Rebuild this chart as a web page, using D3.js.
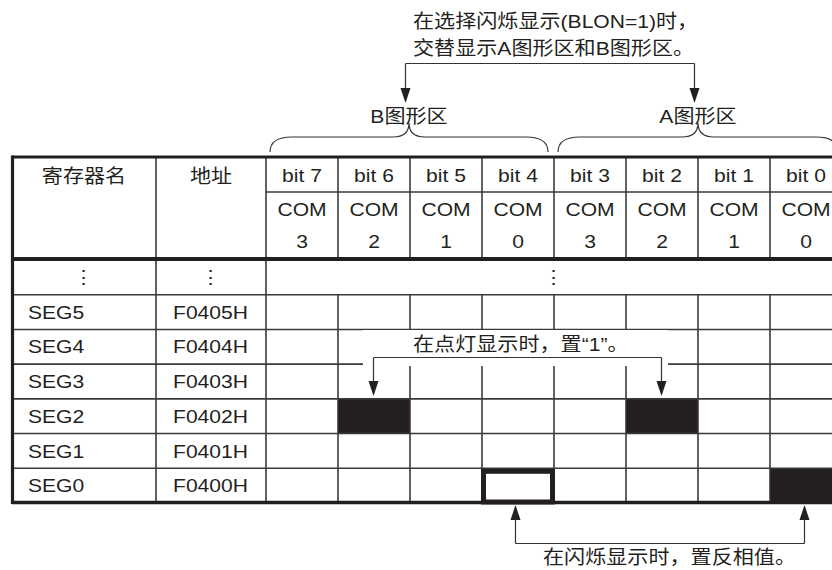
<!DOCTYPE html>
<html><head><meta charset="utf-8">
<script src="https://cdn.jsdelivr.net/npm/d3@7"></script>
<style>
body{margin:0;background:#fff;}
svg text{font-family:"Liberation Sans","Noto Sans CJK SC",sans-serif;fill:#231f20;}
</style></head><body>
<svg id="c" width="832" height="570"></svg>
<script>
// ---- data ----
const headerCols = ["寄存器名","地址"];
const bits = ["bit 7","bit 6","bit 5","bit 4","bit 3","bit 2","bit 1","bit 0"];
const comNums = ["3","2","1","0","3","2","1","0"];
const rows = ["⋮","SEG5","SEG4","SEG3","SEG2","SEG1","SEG0"];
const addrs = ["⋮","F0405H","F0404H","F0403H","F0402H","F0401H","F0400H"];
const litCells = [["SEG2","bit 6"],["SEG2","bit 2"],["SEG0","bit 0"]];
const blinkCells = [["SEG0","bit 4"]];
const areaLabels = ["B图形区","A图形区"];
const topNote = ["在选择闪烁显示(BLON=1)时，","交替显示A图形区和B图形区。"];
const litNote = "在点灯显示时，置“1”。";
const blinkNote = "在闪烁显示时，置反相值。";

const svg = d3.select("#c");
const ink = "#231f20";
const fs = 19, sx = 1.11;

// scales
const xCol = d3.scaleOrdinal().domain(["name","addr"]).range([[12,156],[156,266]]);
const xBit = d3.scaleBand().domain(bits).range([266,842]);
const yRow = d3.scaleBand().domain(rows).range([260,503]);
const bw = xBit.bandwidth(), rh = yRow.bandwidth();

const g = svg.append("g");

// filled cells
g.selectAll("rect.lit").data(litCells).join("rect")
  .attr("x", d=>xBit(d[1])).attr("y", d=>yRow(d[0]))
  .attr("width", bw).attr("height", rh).attr("fill", ink);

// grid lines
const thin = 1.6, lineCol = "#3a3a3a";
function line(x1,y1,x2,y2,w,c){ g.append("line").attr("x1",x1).attr("y1",y1).attr("x2",x2).attr("y2",y2)
  .attr("stroke",c||lineCol).attr("stroke-width",w||thin); }

line(266,192,842,192);
line(156,157,156,503); line(266,157,266,503);
bits.forEach((b,i)=>{ if(i>0){ const x=xBit(b); line(x,157,x,258); line(x,yRow(rows[1]),x,503);} });
rows.forEach((r,i)=>{ if(i>0){ const y=yRow(r); line(12,y,842,y);} });

// blank area behind lit note (breaks lines)
g.append("rect").attr("x",363).attr("y",330).attr("width",305).attr("height",36).attr("fill","#fff");

// outer thick lines
line(12,157,842,157,3.2,ink);
line(12,259,842,259,4,ink);
line(12,502.5,842,502.5,3.5,ink);
line(12.5,155.5,12.5,504,3.2,ink);

// blink cell outline
g.selectAll("rect.blink").data(blinkCells).join("rect")
  .attr("x", d=>xBit(d[1])+1.5).attr("y", d=>yRow(d[0])+3)
  .attr("width", bw-3).attr("height", rh-4)
  .attr("fill","none").attr("stroke",ink).attr("stroke-width",5);

// text helper: places text at (x,y) with horizontal stretch
const tg = svg.append("g").attr("font-size",fs);
function txt(sel, fx, fy, anchor){
  return sel.attr("transform",(d,i)=>`translate(${fx(d,i)},${fy(d,i)}) scale(${sx},1)`)
    .attr("text-anchor", typeof anchor==="function"?anchor:(anchor||"middle"))
    .attr("dominant-baseline","central");
}

txt(tg.selectAll("text.hc").data(headerCols).join("text").text(d=>d),
  (d,i)=>{const r=xCol(i?"addr":"name");return (r[0]+r[1])/2;}, ()=>176);
txt(tg.selectAll("text.bit").data(bits).join("text").text(d=>d), d=>xBit(d)+bw/2, ()=>175);
txt(tg.selectAll("text.com").data(bits).join("text").text("COM"), d=>xBit(d)+bw/2, ()=>209);
txt(tg.selectAll("text.cn").data(comNums).join("text").text(d=>d), (d,i)=>xBit(bits[i])+bw/2, ()=>241);

txt(tg.selectAll("text.rn").data(rows).join("text").text(d=>d),
  (d,i)=> i===0 ? 84 : 28, d=>yRow(d)+rh/2, (d,i)=> i===0?"middle":"start");
txt(tg.selectAll("text.ad").data(addrs).join("text").text(d=>d),
  (d,i)=> i===0 ? 211 : 173, (d,i)=>yRow(rows[i])+rh/2, (d,i)=> i===0?"middle":"start");
txt(tg.append("text").datum(rows[0]).text(d=>d), ()=>(266+842)/2, ()=>yRow(rows[0])+rh/2);

// arrows
const ag = svg.append("g").attr("stroke","#333").attr("stroke-width",1.2).attr("fill","none");
function arrowHead(x,y,dir){
  svg.append("path").attr("d",`M${x},${y} L${x-5},${y-15*dir} L${x+5},${y-15*dir} Z`).attr("fill",ink);
}
// top
ag.append("path").attr("d","M405.5,63.5 L694.5,63.5 M405.5,63.5 L405.5,92 M694.5,63.5 L694.5,92");
arrowHead(405.5,103,1); arrowHead(694.5,103,1);
txt(tg.selectAll("text.top").data(topNote).join("text").text(d=>d), ()=>413, (d,i)=>21+i*27, "start");
// area labels & braces
const braces = [[270,548],[558,838]];
txt(tg.selectAll("text.area").data(areaLabels).join("text").text(d=>d),
  (d,i)=>(braces[i][0]+braces[i][1])/2, ()=>116);
braces.forEach(([a,b])=>{
  const c=(a+b)/2;
  ag.append("path").attr("d",`M${a},152 Q${a},137 ${a+22},137 L${c-16},137 Q${c},137 ${c},123 Q${c},137 ${c+16},137 L${b-22},137 Q${b},137 ${b},152`);
});
// lit note
txt(tg.append("text").datum(litNote).text(d=>d), ()=>413, ()=>344, "start");
ag.append("path").attr("d","M373.5,357.5 L661.5,357.5 M373.5,357.5 L373.5,384 M661.5,357.5 L661.5,384");
arrowHead(373.5,396,1); arrowHead(661.5,396,1);
// blink note
ag.append("path").attr("d","M515.5,543.5 L804.5,543.5 M515.5,543.5 L515.5,516 M804.5,543.5 L804.5,516");
arrowHead(515.5,505,-1); arrowHead(804.5,505,-1);
txt(tg.append("text").datum(blinkNote).text(d=>d), ()=>543, ()=>557, "start");
</script></body></html>
